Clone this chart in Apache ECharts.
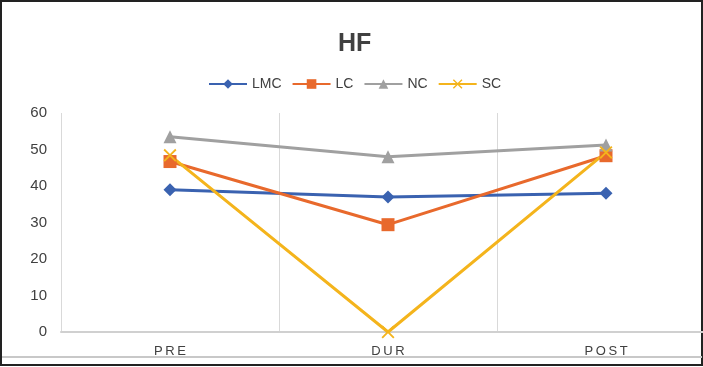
<!DOCTYPE html>
<html>
<head>
<meta charset="utf-8">
<script src="https://cdn.jsdelivr.net/npm/echarts@6/dist/echarts.min.js"></script>
<style>
  html, body { margin: 0; padding: 0; background: #fff; overflow: hidden; width: 703px; height: 367px; }
  #chart { width: 715px; height: 367px; }
</style>
</head>
<body>
<div id="chart"></div>
<script>
var categories = ['PRE', 'DUR', 'POST'];
var lmcValues = [39, 37, 38];
var lcValues = [46.7, 29.4, 48.3];
var ncValues = [53.5, 48, 51.2];
var scValues = [48.4, 0, 49.2];
var yTicks = [0, 10, 20, 30, 40, 50, 60];

var chart = echarts.init(document.getElementById('chart'));

var xSymbol = 'path://M0,1L1,0L5,4L9,0L10,1L6,5L10,9L9,10L5,6L1,10L0,9L4,5Z';
var font = '"Liberation Sans", sans-serif';

function makeSeries(name, data, color, symbol, size) {
  return {
    name: name,
    type: 'line',
    data: data,
    symbol: symbol,
    symbolSize: size,
    lineStyle: { color: color, width: 3 },
    itemStyle: { color: color },
    z: 3
  };
}

var option = {
  animation: false,
  title: {
    text: 'HF',
    left: 333,
    top: 27,
    textStyle: { fontSize: 25, fontWeight: 'bold', color: '#404040', fontFamily: font }
  },
  legend: {
    top: 72,
    left: 203,
    itemWidth: 38,
    itemHeight: 12,
    itemGap: 10,
    textStyle: { fontSize: 14, color: '#404040', fontFamily: font },
    data: ['LMC', 'LC', 'NC', 'SC']
  },
  grid: { left: 61, top: 113, bottom: 35, right: 0 },
  xAxis: {
    type: 'category',
    data: categories,
    boundaryGap: true,
    axisLine: { lineStyle: { color: '#d0d0d0', width: 2 } },
    axisTick: { show: false },
    axisLabel: {
      fontSize: 13,
      color: '#404040',
      margin: 13,
      fontFamily: font,
      formatter: function (v) { return v.split('').join('\u2009'); }
    },
    splitLine: { show: true, lineStyle: { color: '#d9d9d9', width: 1 } }
  },
  yAxis: {
    type: 'value',
    min: 0,
    max: 60,
    interval: 10,
    axisLine: { show: false },
    axisTick: { show: false },
    splitLine: { show: false },
    axisLabel: {
      fontSize: 15,
      color: '#404040',
      margin: 14,
      fontFamily: font,
      formatter: function (v) { return yTicks.indexOf(v) >= 0 ? String(v) : ''; }
    }
  },
  graphic: [
    { type: 'rect', shape: { x: 1, y: 1, width: 701, height: 364 }, style: { fill: 'none', stroke: '#222', lineWidth: 2 }, silent: true },
    { type: 'line', shape: { x1: 2, y1: 357, x2: 702, y2: 357 }, style: { stroke: '#c8c8c8', lineWidth: 2 }, silent: true }
  ],
  series: [
    makeSeries('LMC', lmcValues, '#3a62b0', 'diamond', 13),
    makeSeries('LC', lcValues, '#e8692c', 'rect', 13),
    makeSeries('NC', ncValues, '#a0a0a0', 'triangle', 13),
    makeSeries('SC', scValues, '#f4b41c', xSymbol, 13)
  ]
};

chart.setOption(option);
</script>
</body>
</html>
